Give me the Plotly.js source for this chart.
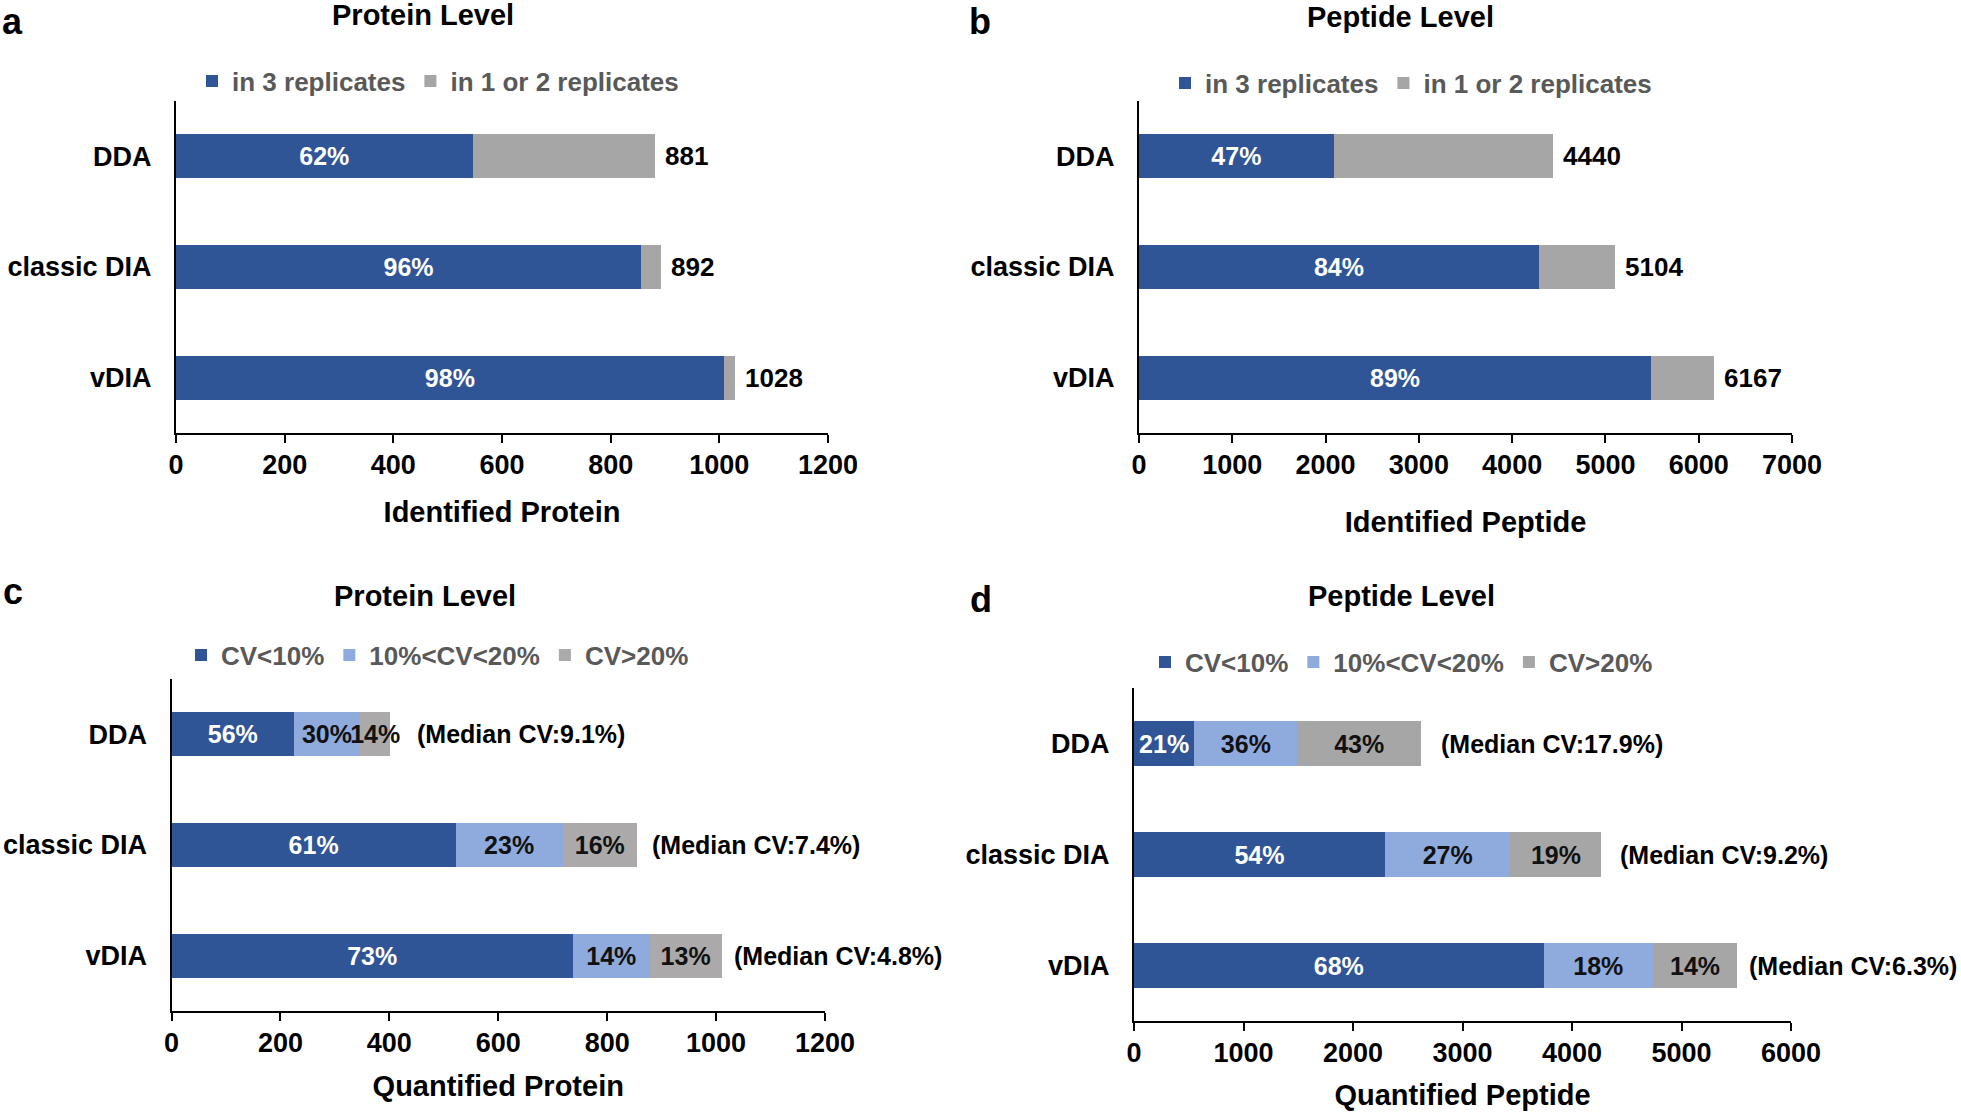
<!DOCTYPE html>
<html><head><meta charset="utf-8">
<script src="https://cdn.plot.ly/plotly-3.0.1.min.js"></script>
<style>html,body{margin:0;padding:0;background:#fff;} #chart{width:1961px;height:1113px;}</style>
</head><body><div id="chart"></div>
<script>
// ---------- data ----------
const methods = ["DDA", "classic DIA", "vDIA"];

// (a) identified proteins
const protIn3 = [546, 856, 1008];
const protIn1or2 = [335, 36, 20];
const protTotal = [881, 892, 1028];
const protIn3Pct = ["62%", "96%", "98%"];

// (b) identified peptides
const pepIn3 = [2087, 4287, 5489];
const pepIn1or2 = [2353, 817, 678];
const pepTotal = [4440, 5104, 6167];
const pepIn3Pct = ["47%", "84%", "89%"];

// (c) quantified proteins by CV
const protCvLow = [225, 522, 737];
const protCvMid = [121, 196, 141];
const protCvHigh = [56, 137, 132];
const protCvLowPct = ["56%", "61%", "73%"];
const protCvMidPct = ["30%", "23%", "14%"];
const protCvHighPct = ["14%", "16%", "13%"];
const protMedianCv = ["(Median CV:9.1%)", "(Median CV:7.4%)", "(Median CV:4.8%)"];

// (d) quantified peptides by CV
const pepCvLow = [550, 2292, 3740];
const pepCvMid = [943, 1146, 1000];
const pepCvHigh = [1127, 830, 767];
const pepCvLowPct = ["21%", "54%", "68%"];
const pepCvMidPct = ["36%", "27%", "18%"];
const pepCvHighPct = ["43%", "19%", "14%"];
const pepMedianCv = ["(Median CV:17.9%)", "(Median CV:9.2%)", "(Median CV:6.3%)"];

// ---------- styling ----------
const FAM = "Liberation Sans, Arial, sans-serif";
const BLUE = "#2F5597", LIGHT = "#8FAADC", GREY = "#A6A6A6", GREYC = "#ABA9A9";
const W = 1961, H = 1113;
const px = v => v / W;
const py = v => 1 - v / H;

function bar(x, name, color, ax, legend, text, textColor) {
  return {
    type: "bar", orientation: "h", x: x, y: methods, name: name,
    xaxis: "x" + ax, yaxis: "y" + ax, legend: legend,
    marker: {color: color, line: {width: 0}},
    text: text, textposition: text ? "inside" : "none",
    insidetextanchor: "middle", textangle: 0, constraintext: "none",
    insidetextfont: {family: FAM, size: 25, color: textColor, weight: "bold"},
    hoverinfo: "x+y+name"
  };
}

const data = [
  bar(protIn3, "in 3 replicates", BLUE, "", "legend", protIn3Pct, "#fff"),
  bar(protIn1or2, "in 1 or 2 replicates", GREY, "", "legend", null, "#000"),
  bar(pepIn3, "in 3 replicates", BLUE, "2", "legend2", pepIn3Pct, "#fff"),
  bar(pepIn1or2, "in 1 or 2 replicates", GREY, "2", "legend2", null, "#000"),
  bar(protCvLow, "CV<10%", BLUE, "3", "legend3", protCvLowPct, "#fff"),
  bar(protCvMid, "10%<CV<20%", LIGHT, "3", "legend3", protCvMidPct, "#111"),
  bar(protCvHigh, "CV>20%", GREYC, "3", "legend3", protCvHighPct, "#111"),
  bar(pepCvLow, "CV<10%", BLUE, "4", "legend4", pepCvLowPct, "#fff"),
  bar(pepCvMid, "10%<CV<20%", LIGHT, "4", "legend4", pepCvMidPct, "#111"),
  bar(pepCvHigh, "CV>20%", GREY, "4", "legend4", pepCvHighPct, "#111")
];

function xax(domain, range, dtick, title, standoff, anchor) {
  return {
    domain: domain, range: range, dtick: dtick, tick0: 0, anchor: anchor,
    showline: true, linecolor: "#000", linewidth: 2,
    ticks: "outside", ticklen: 8, tickwidth: 2, tickcolor: "#000",
    showgrid: false, zeroline: false, fixedrange: true,
    ticklabelstandoff: -1,
    tickfont: {family: FAM, size: 27, color: "#000", weight: "bold"},
    title: {text: title, standoff: standoff, font: {family: FAM, size: 29, color: "#000", weight: "bold"}}
  };
}
function yax(domain, anchor) {
  return {
    domain: domain, anchor: anchor, type: "category",
    categoryorder: "array", categoryarray: methods, autorange: "reversed",
    showline: true, linecolor: "#000", linewidth: 2, ticks: "",
    showgrid: false, zeroline: false, fixedrange: true,
    ticklabelstandoff: 17,
    tickfont: {family: FAM, size: 27, color: "#000", weight: "bold"}
  };
}
function leg(x, y) {
  return {
    orientation: "h", x: x, xanchor: "left", y: y, yanchor: "middle",
    traceorder: "normal", bgcolor: "rgba(0,0,0,0)",
    font: {family: FAM, size: 26, color: "#595959", weight: "bold"}
  };
}

const annotations = [];
function txt(x, y, text, size, xanchor, xref, yref, extra) {
  annotations.push(Object.assign({
    x: x, y: y, xref: xref || "paper", yref: yref || "paper", text: text,
    showarrow: false, xanchor: xanchor || "center", yanchor: "middle",
    font: {family: FAM, size: size, color: "#000", weight: "bold"}
  }, extra || {}));
}
// panel titles and letters
txt(px(423), py(15), "Protein Level", 29);
txt(px(1400), py(17), "Peptide Level", 29);
txt(px(425), py(596), "Protein Level", 29);
txt(px(1401), py(596), "Peptide Level", 29);
txt(px(1), 1, "a", 36, "left", "paper", "paper", {yanchor: "top", borderpad: 0});
txt(px(968), 1, "b", 36, "left", "paper", "paper", {yanchor: "top", borderpad: 0});
txt(px(1), py(592), "c", 36, "left");
txt(px(968), py(599), "d", 36, "left");
// totals and median CV notes (pixel gaps after bar ends, as in the figure)
const gapC = [25, 13, 10], gapD = [18, 17, 10];
methods.forEach((m, i) => {
  txt(protTotal[i], m, String(protTotal[i]), 26, "left", "x", "y", {xshift: 8});
  txt(pepTotal[i], m, String(pepTotal[i]), 26, "left", "x2", "y2", {xshift: 8});
  const cTot = protCvLow[i] + protCvMid[i] + protCvHigh[i];
  const dTot = pepCvLow[i] + pepCvMid[i] + pepCvHigh[i];
  txt(cTot, m, protMedianCv[i], 25, "left", "x3", "y3", {xshift: gapC[i]});
  txt(dTot, m, pepMedianCv[i], 25, "left", "x4", "y4", {xshift: gapD[i]});
});

const layout = {
  width: W, height: H, margin: {l: 0, r: 0, t: 0, b: 0},
  paper_bgcolor: "#fff", plot_bgcolor: "#fff",
  barmode: "stack", bargap: 0.6,
  font: {family: FAM, weight: "bold"},
  xaxis: xax([px(176), px(828)], [0, 1200], 200, "Identified Protein", 22, "y"),
  yaxis: yax([py(433), py(101)], "x"),
  xaxis2: xax([px(1139), px(1792)], [0, 7000], 1000, "Identified Peptide", 32, "y2"),
  yaxis2: yax([py(433), py(101)], "x2"),
  xaxis3: xax([px(171.5), px(825)], [0, 1200], 200, "Quantified Protein", 18, "y3"),
  yaxis3: yax([py(1011), py(679)], "x3"),
  xaxis4: xax([px(1134), px(1791)], [0, 6000], 1000, "Quantified Peptide", 17, "y4"),
  yaxis4: yax([py(1021), py(688)], "x4"),
  legend: leg(px(192), py(81)),
  legend2: leg(px(1165), py(83)),
  legend3: leg(px(181), py(655)),
  legend4: leg(px(1145), py(662)),
  annotations: annotations,
  showlegend: true
};

Plotly.newPlot("chart", data, layout, {displayModeBar: false, staticPlot: true});
</script>
</body></html>
